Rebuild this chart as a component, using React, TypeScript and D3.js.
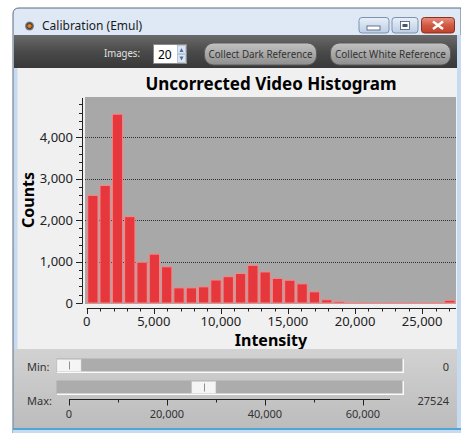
import React from "react";
import * as d3 from "d3";

// ---- data ----
const histMax = 27524;
const counts = [2600, 2840, 4560, 2085, 985, 1180, 875, 365, 365, 390, 555, 635, 712, 910, 750, 595, 550, 462, 270, 78, 40, 16, 8, 8, 8, 8, 8, 8, 8, 65];
const yTicks = [0, 1000, 2000, 3000, 4000];
const xTicks = [0, 5000, 10000, 15000, 20000, 25000];
const sliderTicks = [0, 20000, 40000, 60000];
const sliderMinorTicks = [10000, 30000, 50000];
const minValue = 0;
const maxValue = 27524;
const chartTitle = "Uncorrected Video Histogram";
const windowTitle = "Calibration (Emul)";
const imagesCount = "20";

const FONT = "'Noto Sans', 'Open Sans', sans-serif";

export default function App() {
  const W = 461, H = 433;
  const x = d3.scaleLinear().domain([0, histMax]).range([86.7, 456]);
  const y = d3.scaleLinear().domain([0, 4975]).range([303, 97]);
  const binW = histMax / counts.length;
  const fmt = d3.format(",");
  const yMinor = d3.range(0, 4801, 200);
  const xMinor = d3.range(0, histMax, 1000);
  const s = d3.scaleLinear().domain([0, 65535]).range([69, 390]);

  return (
    <svg width={W} height={H} style={{ position: "absolute", left: 0, top: 0 }} fontFamily={FONT}>
      <defs>
        <linearGradient id="tb" x1="0" y1="0" x2="0" y2="1">
          <stop offset="0" stopColor="#dfe9f6" />
          <stop offset="1" stopColor="#c4d6ee" />
        </linearGradient>
        <linearGradient id="tool" x1="0" y1="0" x2="0" y2="1">
          <stop offset="0" stopColor="#6a6a6a" />
          <stop offset="0.5" stopColor="#4a4a4a" />
          <stop offset="1" stopColor="#383838" />
        </linearGradient>
        <linearGradient id="btn" x1="0" y1="0" x2="0" y2="1">
          <stop offset="0" stopColor="#c2c2c2" />
          <stop offset="1" stopColor="#8e8e8e" />
        </linearGradient>
        <linearGradient id="wbtn" x1="0" y1="0" x2="0" y2="1">
          <stop offset="0" stopColor="#e9f0f9" />
          <stop offset="1" stopColor="#bccde4" />
        </linearGradient>
        <linearGradient id="close" x1="0" y1="0" x2="0" y2="1">
          <stop offset="0" stopColor="#e8907e" />
          <stop offset="0.5" stopColor="#d05a44" />
          <stop offset="1" stopColor="#c0402a" />
        </linearGradient>
        <linearGradient id="panel" x1="0" y1="0" x2="0" y2="1">
          <stop offset="0" stopColor="#d2d2d2" />
          <stop offset="1" stopColor="#bcbcbc" />
        </linearGradient>
        <radialGradient id="icon">
          <stop offset="0" stopColor="#f0a030" />
          <stop offset="0.45" stopColor="#c06010" />
          <stop offset="0.55" stopColor="#404040" />
          <stop offset="1" stopColor="#909090" />
        </radialGradient>
      </defs>
      <rect width={W} height={H} fill="#ffffff" />
      {/* window frame */}
      <path d="M13,433 L13,14 Q13,8 19,8 L461,8 L461,433 Z" fill="url(#tb)" stroke="#5a6a80" strokeWidth={1} />
      <rect x={457} y={35} width={4} height={398} fill="#c8daf0" />
      {/* title */}
      <circle cx={29.5} cy={26} r={4.5} fill="url(#icon)" />
      <text x={42} y={30} fontSize={12} fill="#1a1a1a">{windowTitle}</text>
      {/* window buttons */}
      <rect x={359} y={17.5} width={30} height={15.5} rx={3} fill="url(#wbtn)" stroke="#7d92b2" />
      <rect x={367} y={26} width={13} height={4} fill="#ffffff" stroke="#44556e" strokeWidth={0.8} />
      <rect x={392} y={17.5} width={26} height={15.5} rx={3} fill="url(#wbtn)" stroke="#7d92b2" />
      <rect x={400.5} y={21.5} width={9} height={8} fill="#ffffff" stroke="#44556e" strokeWidth={0.8} />
      <rect x={402.5} y={24} width={5} height={3} fill="#44556e" />
      <rect x={421.5} y={17.5} width={33} height={15.5} rx={3} fill="url(#close)" stroke="#8a3020" />
      <path d="M433,21.5 L443,29 M443,21.5 L433,29" stroke="#ffffff" strokeWidth={2.4} />
      {/* toolbar */}
      <rect x={14} y={35} width={443} height={33} fill="url(#tool)" />
      <text x={140} y={57} fontSize={11.5} fill="#e2e2e2" textAnchor="end" textLength={36} lengthAdjust="spacingAndGlyphs">Images:</text>
      <rect x={153.5} y={44.5} width={33} height={19} fill="#ffffff" stroke="#8a8a8a" />
      <text x={158} y={58.5} fontSize={12} fill="#000">{imagesCount}</text>
      <rect x={177.5} y={45.5} width={8} height={8} fill="#dce6f2" stroke="#9aaac0" strokeWidth={0.6} />
      <rect x={177.5} y={54.5} width={8} height={8} fill="#dce6f2" stroke="#9aaac0" strokeWidth={0.6} />
      <path d="M179.5,52 L181.5,48 L183.5,52 Z" fill="#4a6ea0" />
      <path d="M179.5,56.5 L181.5,60.5 L183.5,56.5 Z" fill="#4a6ea0" />
      <rect x={204.5} y={43} width={112} height={22} rx={9} fill="url(#btn)" stroke="#5a5a5a" />
      <text x={260.5} y={58} fontSize={11} fill="#333" textAnchor="middle" textLength={104} lengthAdjust="spacingAndGlyphs">Collect Dark Reference</text>
      <rect x={330.5} y={43} width={120} height={22} rx={9} fill="url(#btn)" stroke="#5a5a5a" />
      <text x={390.5} y={58} fontSize={11} fill="#333" textAnchor="middle" textLength={111} lengthAdjust="spacingAndGlyphs">Collect White Reference</text>
      {/* body */}
      <rect x={14} y={68} width={443} height={281} fill="#f0f0f0" />
      <rect x={14} y={68} width={3.5} height={281} fill="#c8daf0" />
      <text x={271} y={90} fontSize={17} fontWeight="bold" textAnchor="middle" fill="#000">{chartTitle}</text>
      {/* plot area */}
      <rect x={85} y={97} width={371} height={207} fill="#a8a8a8" />
      {yTicks.filter(t => t > 0).map(t => (
        <line key={"g" + t} x1={85} x2={456} y1={Math.round(y(t)) + 0.5} y2={Math.round(y(t)) + 0.5}
          stroke="#303030" strokeWidth={1} strokeDasharray="1,1" />
      ))}
      {counts.map((c, i) => {
        const x0 = x(i * binW), x1 = x((i + 1) * binW);
        return (
          <rect key={"b" + i} x={x0 + 1} y={y(c)} width={x1 - x0 - 2} height={Math.max(0, y(0) - y(c))}
            fill="#e6383c" stroke="#f28a8a" strokeWidth={1} />
        );
      })}
      {/* y axis */}
      <line x1={82.5} x2={82.5} y1={98} y2={303.5} stroke="#222" />
      {yMinor.map(t => (
        <line key={"ym" + t} x1={t % 1000 === 0 ? 76 : 79} x2={82.5} y1={Math.round(y(t)) + 0.5} y2={Math.round(y(t)) + 0.5} stroke="#222" />
      ))}
      {yTicks.map(t => (
        <text key={"yl" + t} x={73} y={y(t)} dy="0.36em" fontSize={13} textAnchor="end" fill="#222">{fmt(t)}</text>
      ))}
      <text transform="translate(34,200) rotate(-90)" fontSize={16} fontWeight="bold" textAnchor="middle" fill="#000">Counts</text>
      {/* x axis */}
      <line x1={86.7} x2={456} y1={308.5} y2={308.5} stroke="#222" />
      {xMinor.map(t => (
        <line key={"xm" + t} x1={Math.round(x(t)) + 0.5} x2={Math.round(x(t)) + 0.5} y1={308.5} y2={t % 5000 === 0 ? 314 : 311.5} stroke="#222" />
      ))}
      {xTicks.map(t => (
        <text key={"xl" + t} x={x(t)} y={326} fontSize={13} textAnchor="middle" fill="#222">{fmt(t)}</text>
      ))}
      <text x={271} y={346} fontSize={16} fontWeight="bold" textAnchor="middle" fill="#000">Intensity</text>
      {/* bottom panel */}
      <rect x={14} y={349} width={443} height={79} fill="url(#panel)" />
      <rect x={13} y={428} width={448} height={2} fill="#4ea6d6" />
      <rect x={13} y={430} width={448} height={3} fill="#c8daf0" />
      <text x={27} y={371} fontSize={11} fill="#333">Min:</text>
      <text x={27} y={405} fontSize={11} fill="#333">Max:</text>
      {[{ v: minValue, y0: 359 }, { v: maxValue, y0: 381 }].map((sl, k) => (
        <g key={"sl" + k}>
          <rect x={57} y={sl.y0} width={347} height={14} fill="#fafafa" />
          <rect x={56.5} y={sl.y0 - 0.5} width={346} height={13} fill="#acacac" />
          <rect x={s(sl.v) - 12} y={sl.y0 + 0.5} width={24} height={12} fill="#f5f5f5" stroke="#d8d8d8" strokeWidth={0.5} />
          <line x1={Math.round(s(sl.v)) + 0.5} x2={Math.round(s(sl.v)) + 0.5} y1={sl.y0 + 2.5} y2={sl.y0 + 10.5} stroke="#909090" />
        </g>
      ))}
      <line x1={69} x2={390} y1={399.5} y2={399.5} stroke="#222" />
      {sliderTicks.map(t => (
        <g key={"st" + t}>
          <line x1={Math.round(s(t)) + 0.5} x2={Math.round(s(t)) + 0.5} y1={399.5} y2={405.5} stroke="#222" />
          <text x={s(t)} y={418} fontSize={11} textAnchor="middle" fill="#333">{fmt(t)}</text>
        </g>
      ))}
      {sliderMinorTicks.map(t => (
        <line key={"sm" + t} x1={Math.round(s(t)) + 0.5} x2={Math.round(s(t)) + 0.5} y1={399.5} y2={402.5} stroke="#222" />
      ))}
      <text x={449} y={371} fontSize={11} textAnchor="end" fill="#333">{minValue}</text>
      <text x={449} y={405} fontSize={11} textAnchor="end" fill="#333">{maxValue}</text>
    </svg>
  );
}
